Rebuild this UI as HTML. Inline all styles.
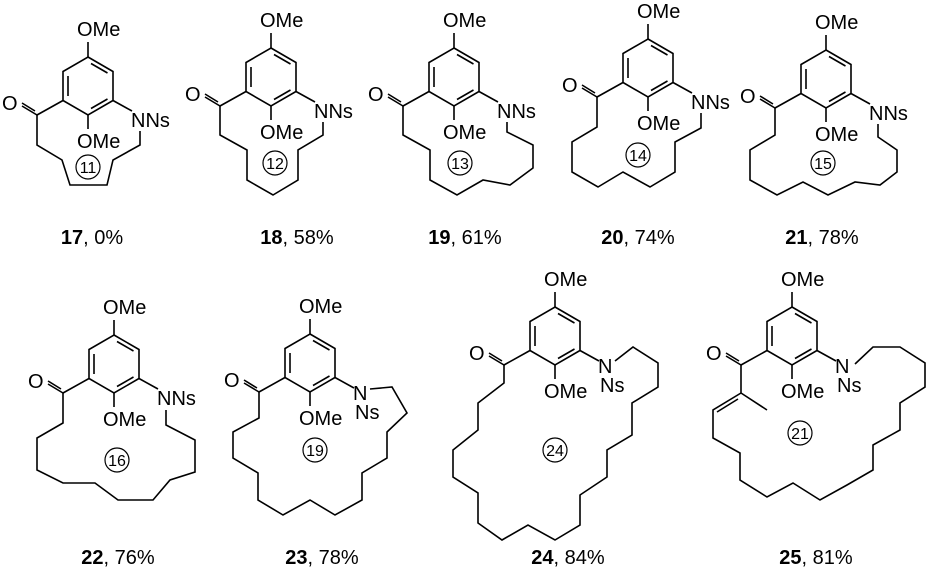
<!DOCTYPE html>
<html><head><meta charset="utf-8"><style>
html,body{margin:0;padding:0;background:#fff;}
svg{display:block;}
text{font-family:"Liberation Sans",Arial,sans-serif;fill:#000;}
.t{font-size:20px;}
.c{font-size:16px;}
.l{font-size:20px;}
</style></head><body>
<svg width="926" height="574" viewBox="0 0 926 574" xmlns="http://www.w3.org/2000/svg">
<defs>
<g id="core" fill="none" stroke="#000" stroke-width="1.6" stroke-linejoin="miter">
  <path d="M0,-29 L25,-14.5 L25,14.5 L0,29 L-25,14.5 L-25,-14.5 Z"/>
  <path d="M-20,-10 L-20,10 M3,-22.5 L19.5,-13 M19.5,13 L3,22.5"/>
  <path d="M0,-29 L0,-44 M0,29 L0,43 M-25,14.5 L-51,29 M-51,29 L-66,20 M-53,25 L-66,17 M25,14.5 L44,25"/>
</g>
</defs>

<!-- 17 -->
<g transform="translate(88,86)">
 <use href="#core"/>
 <text class="t" x="-11" y="-50">OMe</text>
 <text class="t" x="-11" y="62">OMe</text>
 <text class="t" x="-86" y="24">O</text>
 <text class="t" x="43" y="41">NNs</text>
</g>
<polyline fill="none" stroke="#000" stroke-width="1.6" points="37,115 37,145 62,160 70,185 107,185 113,160 140,145 140,131"/>
<circle cx="88" cy="167" r="12" fill="none" stroke="#000" stroke-width="1.2"/><text class="c" x="88" y="173" text-anchor="middle">11</text>
<text class="l" x="92" y="244" text-anchor="middle"><tspan font-weight="bold">17</tspan>, 0%</text>

<!-- 18 -->
<g transform="translate(271,77)">
 <use href="#core"/>
 <text class="t" x="-11" y="-50">OMe</text>
 <text class="t" x="-11" y="62">OMe</text>
 <text class="t" x="-86" y="24">O</text>
 <text class="t" x="43" y="41">NNs</text>
</g>
<polyline fill="none" stroke="#000" stroke-width="1.6" points="220,106 220,135 247,150 247,180 273,195 298,180 298,150 323,135 323,122"/>
<circle cx="275" cy="163" r="12" fill="none" stroke="#000" stroke-width="1.2"/><text class="c" x="275" y="169" text-anchor="middle">12</text>
<text class="l" x="297" y="244" text-anchor="middle"><tspan font-weight="bold">18</tspan>, 58%</text>

<!-- 19 -->
<g transform="translate(454,77)">
 <use href="#core"/>
 <text class="t" x="-11" y="-50">OMe</text>
 <text class="t" x="-11" y="62">OMe</text>
 <text class="t" x="-86" y="24">O</text>
 <text class="t" x="43" y="41">NNs</text>
</g>
<polyline fill="none" stroke="#000" stroke-width="1.6" points="403,106 403,135 430,150 430,180 457,195 483,180 510,185 533,168 533,145 507,132 507,122"/>
<circle cx="460" cy="163" r="12" fill="none" stroke="#000" stroke-width="1.2"/><text class="c" x="460" y="169" text-anchor="middle">13</text>
<text class="l" x="465" y="244" text-anchor="middle"><tspan font-weight="bold">19</tspan>, 61%</text>

<!-- 20 -->
<g transform="translate(648,68)">
 <use href="#core"/>
 <text class="t" x="-11" y="-50">OMe</text>
 <text class="t" x="-11" y="62">OMe</text>
 <text class="t" x="-86" y="24">O</text>
 <text class="t" x="43" y="41">NNs</text>
</g>
<polyline fill="none" stroke="#000" stroke-width="1.6" points="597,97 597,127 572,142 572,172 598,187 623,172 650,187 675,172 675,142 701,128 701,113"/>
<circle cx="638" cy="155" r="12" fill="none" stroke="#000" stroke-width="1.2"/><text class="c" x="638" y="161" text-anchor="middle">14</text>
<text class="l" x="638" y="244" text-anchor="middle"><tspan font-weight="bold">20</tspan>, 74%</text>

<!-- 21 -->
<g transform="translate(826,79)">
 <use href="#core"/>
 <text class="t" x="-11" y="-50">OMe</text>
 <text class="t" x="-11" y="62">OMe</text>
 <text class="t" x="-86" y="24">O</text>
 <text class="t" x="43" y="41">NNs</text>
</g>
<polyline fill="none" stroke="#000" stroke-width="1.6" points="775,108 775,135 750,150 750,180 777,195 803,182 828,195 855,182 880,185 897,172 897,150 878,137 878,124"/>
<circle cx="823" cy="163" r="12" fill="none" stroke="#000" stroke-width="1.2"/><text class="c" x="823" y="169" text-anchor="middle">15</text>
<text class="l" x="822" y="244" text-anchor="middle"><tspan font-weight="bold">21</tspan>, 78%</text>

<!-- 22 -->
<g transform="translate(114,364)">
 <use href="#core"/>
 <text class="t" x="-11" y="-50">OMe</text>
 <text class="t" x="-11" y="62">OMe</text>
 <text class="t" x="-86" y="24">O</text>
 <text class="t" x="43" y="41">NNs</text>
</g>
<polyline fill="none" stroke="#000" stroke-width="1.6" points="63,393 63,423 37,438 37,470 63,483 95,483 118,500 153,500 170,480 195,472 195,440 166,425 166,410"/>
<circle cx="117" cy="460" r="12" fill="none" stroke="#000" stroke-width="1.2"/><text class="c" x="117" y="466" text-anchor="middle">16</text>
<text class="l" x="118" y="564" text-anchor="middle"><tspan font-weight="bold">22</tspan>, 76%</text>

<!-- 23 -->
<g transform="translate(310,363)">
 <use href="#core"/>
 <text class="t" x="-11" y="-50">OMe</text>
 <text class="t" x="-11" y="62">OMe</text>
 <text class="t" x="-86" y="24">O</text>
 <text class="t" x="43" y="37">N</text>
 <text class="t" x="45" y="56">Ns</text>
</g>
<polyline fill="none" stroke="#000" stroke-width="1.6" points="259,392 259,418 233,432 233,458 258,473 258,500 283,515 310,500 335,515 362,500 362,473 387,458 387,432 407,413 392,387 370,389"/>
<circle cx="315" cy="450" r="12" fill="none" stroke="#000" stroke-width="1.2"/><text class="c" x="315" y="456" text-anchor="middle">19</text>
<text class="l" x="322" y="564" text-anchor="middle"><tspan font-weight="bold">23</tspan>, 78%</text>

<!-- 24 -->
<g transform="translate(555,336)">
 <use href="#core"/>
 <text class="t" x="-11" y="-50">OMe</text>
 <text class="t" x="-11" y="62">OMe</text>
 <text class="t" x="-86" y="24">O</text>
 <text class="t" x="43" y="37">N</text>
 <text class="t" x="45" y="56">Ns</text>
</g>
<polyline fill="none" stroke="#000" stroke-width="1.6" points="504,365 504,383 478,403 478,430 453,450 453,477 478,493 478,523 502,540 528,525 555,540 580,525 580,495 607,477 607,450 632,435 632,403 658,387 658,363 633,347 615,361"/>
<circle cx="555" cy="450" r="12" fill="none" stroke="#000" stroke-width="1.2"/><text class="c" x="555" y="456" text-anchor="middle">24</text>
<text class="l" x="568" y="564" text-anchor="middle"><tspan font-weight="bold">24</tspan>, 84%</text>

<!-- 25 -->
<g transform="translate(792,336)">
 <use href="#core"/>
 <text class="t" x="-11" y="-50">OMe</text>
 <text class="t" x="-11" y="62">OMe</text>
 <text class="t" x="-86" y="24">O</text>
 <text class="t" x="43" y="37">N</text>
 <text class="t" x="45" y="56">Ns</text>
</g>
<polyline fill="none" stroke="#000" stroke-width="1.6" points="741,365 741,393 767,410"/>
<polyline fill="none" stroke="#000" stroke-width="1.6" points="741,393 713,410 713,438 740,453 740,480 767,497 793,483 820,500 847,485 873,470 873,445 900,430 900,403 925,387 925,363 900,347 873,347 855,364"/>
<line x1="738" y1="399" x2="717" y2="412" stroke="#000" stroke-width="1.6"/>
<circle cx="800" cy="433" r="12" fill="none" stroke="#000" stroke-width="1.2"/><text class="c" x="800" y="439" text-anchor="middle">21</text>
<text class="l" x="816" y="564" text-anchor="middle"><tspan font-weight="bold">25</tspan>, 81%</text>
</svg>
</body></html>
